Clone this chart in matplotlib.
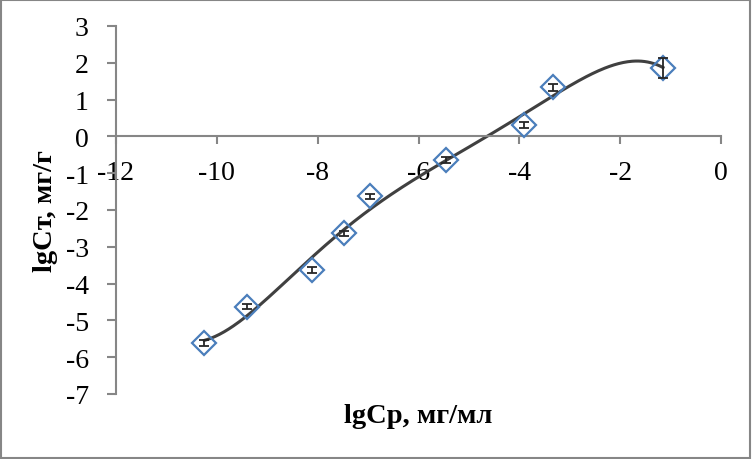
import numpy as np
import matplotlib
matplotlib.use("Agg")
import matplotlib.pyplot as plt
from matplotlib.patches import Rectangle

# data
lg_cp = [-10.25, -9.40, -8.11, -7.48, -6.96, -5.45, -3.90, -3.33, -1.15]
lg_ct = [-5.62, -4.63, -3.64, -2.63, -1.63, -0.63, 0.32, 1.33, 1.86]
err = [0.08, 0.07, 0.08, 0.07, 0.07, 0.08, 0.08, 0.1, 0.28]
x_ticks = [-12, -10, -8, -6, -4, -2, 0]
y_ticks = [-7, -6, -5, -4, -3, -2, -1, 0, 1, 2, 3]

plt.rcParams['font.family'] = ['Liberation Serif', 'DejaVu Serif']

fig = plt.figure(figsize=(7.52, 4.60), dpi=100)
ax = fig.add_axes([116/752, 1-395/460, (721-116)/752, (395-27)/460])

# trendline (polynomial fit of the points, as Excel does)
coef = np.polyfit(lg_cp, lg_ct, 5)
xs = np.linspace(min(lg_cp), max(lg_cp), 300)
ax.plot(xs, np.polyval(coef, xs), color='#404040', lw=2.2, zorder=2)

ax.errorbar(lg_cp, lg_ct, yerr=err, fmt='none', ecolor='#262626', elinewidth=1.3,
            capsize=3.5, capthick=1.3, zorder=4)
ax.plot(lg_cp, lg_ct, ls='none', marker='D', ms=12, mfc='none', mec='#4A7EBB',
        mew=1.6, zorder=3)

ax.set_xlim(-12, 0)
ax.set_ylim(-7, 3)
ax.set_xticks(x_ticks)
ax.set_yticks(y_ticks)
ax.set_xticklabels([str(v) for v in x_ticks])
ax.set_yticklabels([str(v) for v in y_ticks])

ax.spines['top'].set_visible(False)
ax.spines['right'].set_visible(False)
ax.spines['bottom'].set_position(('data', 0))
for s in ('left', 'bottom'):
    ax.spines[s].set_color('#868686')
    ax.spines[s].set_linewidth(1.5)
ax.tick_params(axis='x', direction='out', length=6, width=1.5, color='#868686',
               labelsize=20, pad=11)
ax.tick_params(axis='y', direction='out', length=6.5, width=1.5, color='#868686',
               labelsize=20, pad=13)

fig.text(418/752, 1-417/460, 'lgCp, мг/мл', ha='center', va='center',
         fontsize=20.5, fontweight='bold')
fig.text(46/752, 1-211/460, 'lgCт, мг/г', ha='center', va='center',
         fontsize=20.5, fontweight='bold', rotation=90)

fig.patches.append(Rectangle((0.001, 0.002), 0.997, 0.995, transform=fig.transFigure,
                             fill=False, edgecolor='#868686', lw=1.5))

fig.savefig('out.png', dpi=100)
